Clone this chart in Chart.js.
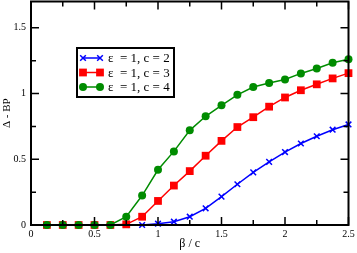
<!DOCTYPE html>
<html>
<head>
<meta charset="utf-8">
<script src="https://cdn.jsdelivr.net/npm/chart.js@4.4.0/dist/chart.umd.min.js"></script>
<style>
  html, body { margin: 0; padding: 0; background: #fff; }
</style>
</head>
<body>
<canvas id="gapChart" width="357" height="253"></canvas>
<script>
// valeurs
const betaC = [0.125, 0.25, 0.375, 0.5, 0.625, 0.75, 0.875, 1.0, 1.125, 1.25,
               1.375, 1.5, 1.625, 1.75, 1.875, 2.0, 2.125, 2.25, 2.375, 2.5];
const gapC2 = [0, 0, 0, 0, 0, 0, 0, 0.01, 0.025, 0.063,
               0.127, 0.216, 0.31, 0.40, 0.48, 0.555, 0.62, 0.675, 0.725, 0.765];
const gapC3 = [0, 0, 0, 0, 0, 0.005, 0.063, 0.183, 0.30, 0.41,
               0.527, 0.64, 0.745, 0.82, 0.90, 0.97, 1.025, 1.07, 1.115, 1.155];
const gapC4 = [0, 0, 0, 0, 0, 0.063, 0.224, 0.42, 0.56, 0.72,
               0.827, 0.91, 0.99, 1.05, 1.08, 1.107, 1.153, 1.19, 1.234, 1.26];
const seriesLabels = ['ε  = 1, c = 2', 'ε  = 1, c = 3', 'ε  = 1, c = 4'];
const xTickLabels = ['0', '0.5', '1', '1.5', '2', '2.5'];
const yTickLabels = ['0', '0.5', '1', '1.5'];
const xTitle = 'β / c';
const yTitle = 'Δ - BP';

const serif = "'Liberation Serif', 'DejaVu Serif', serif";

function toPoints(ys) {
    return betaC.map((b, i) => ({ x: b, y: ys[i] }));
}

function isHalf(v) {
    return Math.abs(v * 2 - Math.round(v * 2)) < 1e-6;
}

// cadre + graduations internes sur les quatre côtés
const framePlugin = {
    id: 'frame',
    afterDatasetsDraw(chart) {
        const ctx = chart.ctx;
        const a = chart.chartArea;
        const xs = chart.scales.x;
        const ys = chart.scales.y;
        ctx.save();
        ctx.strokeStyle = '#000';
        ctx.lineWidth = 2;
        ctx.strokeRect(a.left, a.top, a.right - a.left, a.bottom - a.top);
        ctx.lineWidth = 1.5;
        ctx.beginPath();
        xs.ticks.forEach(t => {
            const len = isHalf(t.value) ? 8 : 5;
            const px = xs.getPixelForValue(t.value);
            ctx.moveTo(px, a.bottom); ctx.lineTo(px, a.bottom - len);
            ctx.moveTo(px, a.top); ctx.lineTo(px, a.top + len);
        });
        ys.ticks.forEach(t => {
            if (t.value > 1.5 + 1e-6) return;
            const len = isHalf(t.value) ? 8 : 5;
            const py = ys.getPixelForValue(t.value);
            ctx.moveTo(a.left, py); ctx.lineTo(a.left + len, py);
            ctx.moveTo(a.right, py); ctx.lineTo(a.right - len, py);
        });
        ctx.stroke();
        ctx.restore();
    },
    afterDraw(chart) {
        // légende encadrée dans la zone du graphique
        const ctx = chart.ctx;
        const bx = 77, by = 48, bw = 97, bh = 49;
        ctx.save();
        ctx.fillStyle = '#fff';
        ctx.fillRect(bx, by, bw, bh);
        ctx.strokeStyle = '#000';
        ctx.lineWidth = 2;
        ctx.strokeRect(bx, by, bw, bh);
        chart.data.datasets.forEach((ds, i) => {
            const y = by + 10 + i * 14.5;
            ctx.strokeStyle = ds.borderColor;
            ctx.lineWidth = ds.borderWidth;
            ctx.beginPath();
            ctx.moveTo(83, y); ctx.lineTo(100, y);
            ctx.stroke();
            [83, 100].forEach(px => {
                ctx.fillStyle = ds.pointBackgroundColor;
                ctx.strokeStyle = ds.pointBorderColor;
                ctx.lineWidth = ds.pointBorderWidth;
                Chart.helpers.drawPoint(ctx, {
                    pointStyle: ds.pointStyle, radius: ds.pointRadius, rotation: 0, borderWidth: ds.pointBorderWidth
                }, px, y);
            });
            ctx.fillStyle = '#000';
            ctx.font = '13px ' + serif;
            ctx.textBaseline = 'middle';
            ctx.fillText(ds.label, 108, y + 1);
        });
        ctx.restore();
    }
};

const ctx = document.getElementById('gapChart').getContext('2d');
const gapChart = new Chart(ctx, {
    type: 'line',
    data: {
        datasets: [
            {
                label: seriesLabels[0], data: toPoints(gapC2), order: 2,
                borderColor: '#0000ff', borderWidth: 1.5,
                pointStyle: 'crossRot', pointRadius: 4, pointBorderWidth: 1.5,
                pointBackgroundColor: '#0000ff', pointBorderColor: '#0000ff'
            },
            {
                label: seriesLabels[1], data: toPoints(gapC3), order: 1,
                borderColor: '#ff0000', borderWidth: 1.5,
                pointStyle: 'rect', pointRadius: 5.5, pointBorderWidth: 0,
                pointBackgroundColor: '#ff0000', pointBorderColor: '#ff0000'
            },
            {
                label: seriesLabels[2], data: toPoints(gapC4), order: 0,
                borderColor: '#008c00', borderWidth: 1.5,
                pointStyle: 'circle', pointRadius: 4, pointBorderWidth: 0,
                pointBackgroundColor: '#008c00', pointBorderColor: '#008c00'
            }
        ]
    },
    options: {
        responsive: false,
        animation: false,
        devicePixelRatio: 1,
        layout: { autoPadding: false, padding: { top: 1.5, right: 8.5, left: 0, bottom: 0 } },
        elements: { line: { tension: 0 } },
        datasets: { line: { clip: false } },
        plugins: { legend: { display: false }, tooltip: { enabled: false } },
        scales: {
            x: {
                type: 'linear', min: 0, max: 2.5,
                afterFit: s => { s.height = 28; s.paddingLeft = 0; s.paddingRight = 0; },
                grid: { display: false, drawTicks: false },
                border: { display: false },
                ticks: {
                    stepSize: 0.25, autoSkip: false, maxRotation: 0, padding: 3,
                    color: '#000', font: { family: serif, size: 10 },
                    callback: v => isHalf(v) ? xTickLabels[Math.round(v * 2)] : ''
                },
                title: {
                    display: true, text: xTitle, color: '#000',
                    font: { family: serif, size: 12 }, padding: { top: 0, bottom: 2 }
                }
            },
            y: {
                type: 'linear', min: 0, max: 1.7,
                afterFit: s => { s.width = 31; s.paddingTop = 0; s.paddingBottom = 0; },
                grid: { display: false, drawTicks: false },
                border: { display: false },
                ticks: {
                    stepSize: 0.25, autoSkip: false, padding: 5,
                    color: '#000', font: { family: serif, size: 10 },
                    callback: v => (isHalf(v) && v <= 1.5) ? yTickLabels[Math.round(v * 2)] : ''
                },
                title: {
                    display: true, text: yTitle, color: '#000',
                    font: { family: serif, size: 11 }, padding: { top: 1, bottom: 0 }
                }
            }
        }
    },
    plugins: [framePlugin]
});
</script>
</body>
</html>
